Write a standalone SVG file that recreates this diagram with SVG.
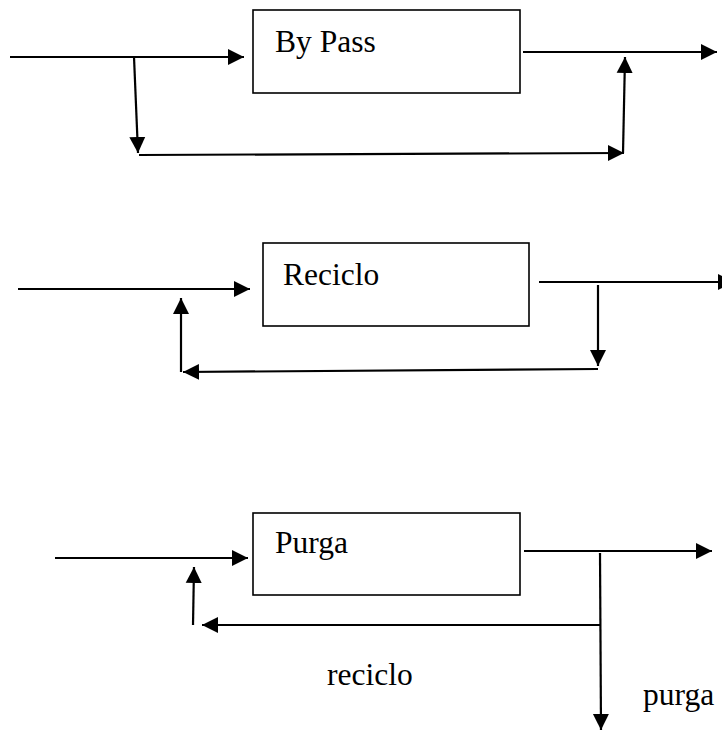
<svg xmlns="http://www.w3.org/2000/svg" width="722" height="731" viewBox="0 0 722 731">
  <style>
    .box { fill: #ffffff; stroke: #000000; stroke-width: 1.6; }
    .lbl { font-family: "Liberation Serif", "Times New Roman", serif; font-size: 31.5px; fill: #000000; }
    .ln { fill: none; stroke: #000000; stroke-width: 2.2; marker-end: url(#ah); }
  </style>
  <defs>
    <marker id="ah" markerUnits="userSpaceOnUse" markerWidth="17" markerHeight="17" viewBox="0 0 17 17" refX="16" refY="8.5" orient="auto">
      <path d="M0,0.5 L16,8.5 L0,16.5 z" fill="#000000"/>
    </marker>
  </defs>

  <rect width="722" height="731" fill="#ffffff"/>

  <g id="node-bypass">
    <rect class="box" x="253" y="10" width="267" height="83"/>
    <text class="lbl" x="275" y="52">By Pass</text>
  </g>
  <g id="node-reciclo">
    <rect class="box" x="263" y="243" width="266" height="83"/>
    <text class="lbl" x="283" y="285">Reciclo</text>
  </g>
  <g id="node-purga">
    <rect class="box" x="253" y="513" width="267" height="82"/>
    <text class="lbl" x="275" y="553">Purga</text>
  </g>
  <g id="label-reciclo">
    <text class="lbl" x="327" y="685">reciclo</text>
  </g>
  <g id="label-purga">
    <text class="lbl" x="643" y="705">purga</text>
  </g>

  <g id="connectors">
    <line class="ln" x1="10" y1="57" x2="244" y2="57"/>
    <line class="ln" x1="134" y1="57" x2="138" y2="153"/>
    <line class="ln" x1="139" y1="155" x2="624" y2="153"/>
    <line class="ln" x1="623" y1="153" x2="625" y2="57"/>
    <line class="ln" x1="523" y1="52" x2="717" y2="52"/>
    <line class="ln" x1="18" y1="289" x2="250" y2="289"/>
    <line class="ln" x1="539" y1="282" x2="734" y2="282"/>
    <line class="ln" x1="598" y1="285" x2="598" y2="366"/>
    <line class="ln" x1="598" y1="369" x2="183" y2="372"/>
    <line class="ln" x1="181" y1="372" x2="181" y2="298"/>
    <line class="ln" x1="55" y1="558" x2="248" y2="558"/>
    <line class="ln" x1="524" y1="551" x2="712" y2="551"/>
    <line class="ln" x1="600" y1="553" x2="601" y2="730"/>
    <line class="ln" x1="600" y1="625" x2="202" y2="625"/>
    <line class="ln" x1="193" y1="625" x2="194" y2="567"/>
  </g>
</svg>
